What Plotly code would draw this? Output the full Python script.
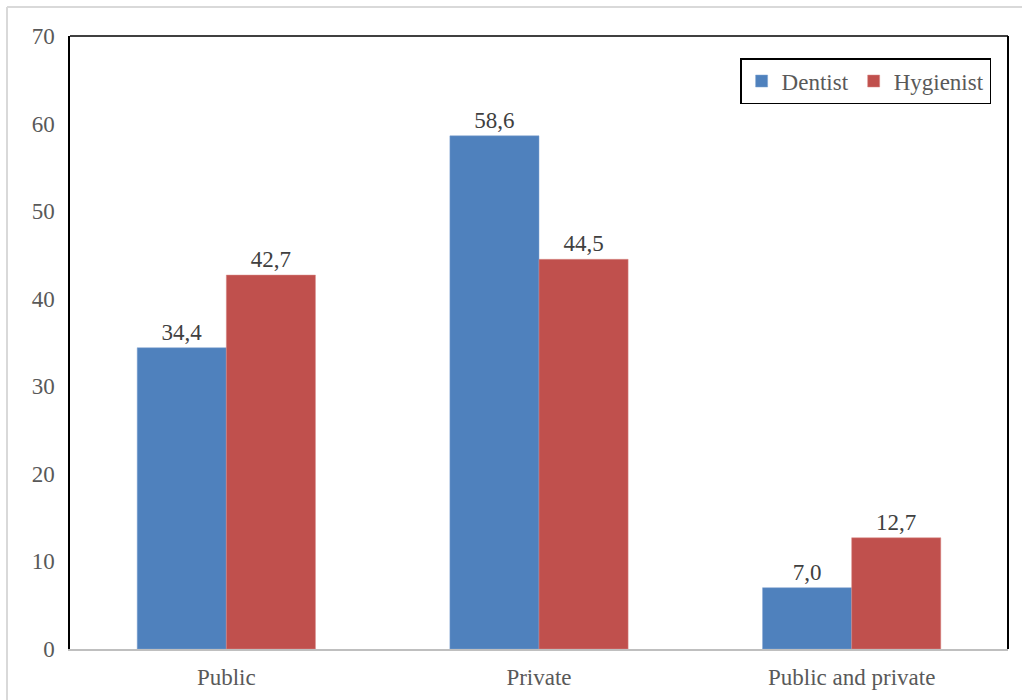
import plotly.graph_objects as go

categories = ["Public", "Private", "Public and private"]
dentist = [34.4, 58.6, 7.0]
hygienist = [42.7, 44.5, 12.7]
y_ticks = [0, 10, 20, 30, 40, 50, 60, 70]

def fmt(v):
    return f"{v:.1f}".replace(".", ",")

font_family = "Times New Roman, Liberation Serif, serif"

fig = go.Figure()
fig.add_trace(go.Bar(
    name="Dentist", x=categories, y=dentist,
    marker=dict(color="#4F81BD", line=dict(color="#7FA3D0", width=0.5)),
    text=[fmt(v) for v in dentist], textposition="outside",
    textfont=dict(family=font_family, size=23, color="#404040"),
    cliponaxis=False,
))
fig.add_trace(go.Bar(
    name="Hygienist", x=categories, y=hygienist,
    marker=dict(color="#C0504D", line=dict(color="#D98A88", width=0.5)),
    text=[fmt(v) for v in hygienist], textposition="outside",
    textfont=dict(family=font_family, size=23, color="#404040"),
    cliponaxis=False,
))

fig.update_layout(
    width=1022, height=700,
    margin=dict(l=70, r=14, t=36, b=51, autoexpand=False),
    paper_bgcolor="white", plot_bgcolor="white",
    barmode="group", bargap=0.43, bargroupgap=0,
    font=dict(family=font_family, size=23, color="#595959"),
    showlegend=True,
    legend=dict(
        orientation="h", x=0.982, y=0.964, xanchor="right", yanchor="top",
        bordercolor="black", borderwidth=1.5, bgcolor="white",
        font=dict(family=font_family, size=23, color="#595959"),
        itemwidth=30, traceorder="normal",
    ),
    xaxis=dict(
        showline=True, linecolor="#BFBFBF", linewidth=2, ticks="",
        tickfont=dict(family=font_family, size=23, color="#595959"),
        showgrid=False, mirror=False, ticklabelstandoff=6, automargin=False,
    ),
    yaxis=dict(
        range=[0, 70], tickvals=y_ticks, showgrid=False, zeroline=False,
        showline=True, linecolor="black", linewidth=1.5, ticks="",
        tickfont=dict(family=font_family, size=23, color="#595959"),
        ticklabelstandoff=9, automargin=False,
    ),
    shapes=[
        dict(type="line", xref="paper", yref="paper", x0=0, x1=1, y0=1, y1=1,
             line=dict(color="black", width=1.5)),
        dict(type="line", xref="paper", yref="paper", x0=1, x1=1, y0=0, y1=1,
             line=dict(color="black", width=2)),
        dict(type="line", xref="paper", yref="paper",
             x0=(7 - 70) / 938, x1=(1022 - 70) / 938,
             y0=(649 - 7) / 613, y1=(649 - 7) / 613,
             line=dict(color="#D9D9D9", width=2)),
        dict(type="line", xref="paper", yref="paper",
             x0=(7 - 70) / 938, x1=(7 - 70) / 938,
             y0=(649 - 7) / 613, y1=(649 - 700) / 613,
             line=dict(color="#D9D9D9", width=2)),
    ],
)

fig.write_html("out.html")
